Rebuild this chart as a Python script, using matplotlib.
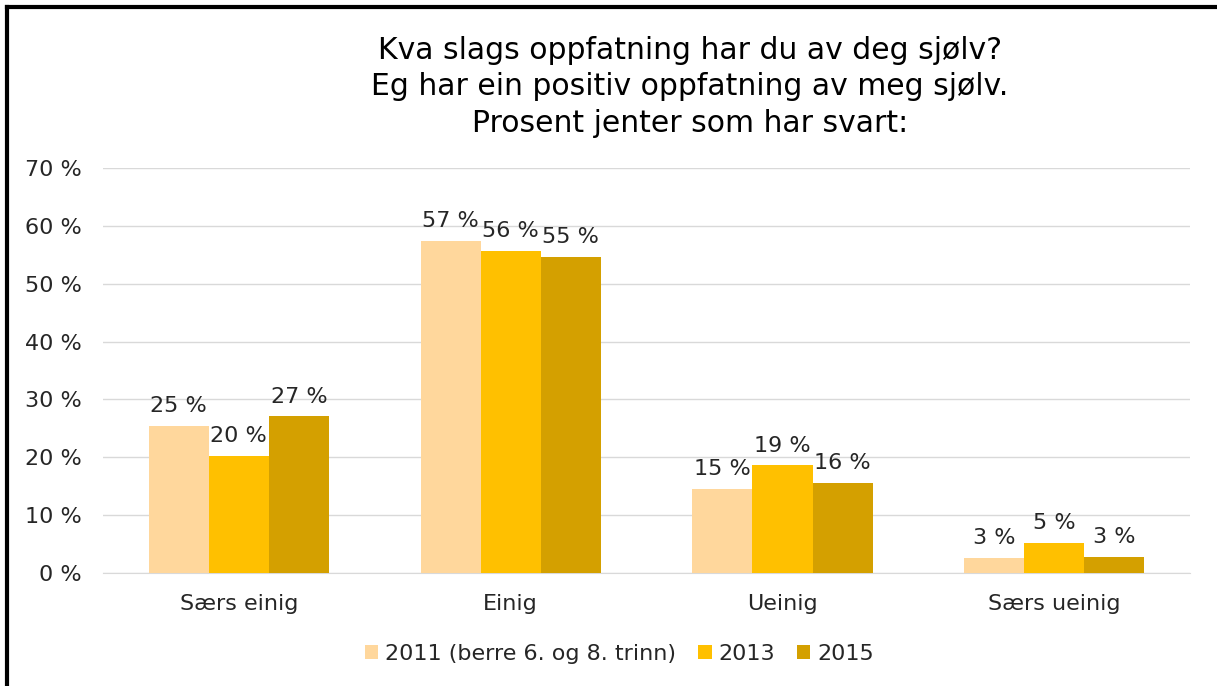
import matplotlib
matplotlib.use('Agg')
import matplotlib.pyplot as plt
import numpy as np
from matplotlib.lines import Line2D

categories = ['Særs einig', 'Einig', 'Ueinig', 'Særs ueinig']
series = ['2011 (berre 6. og 8. trinn)', '2013', '2015']
v2011 = [25.4, 57.4, 14.6, 2.6]
v2013 = [20.2, 55.7, 18.6, 5.2]
v2015 = [27.1, 54.6, 15.6, 2.8]
colors = ['#FFD79C', '#FFC000', '#D4A000']

plt.rcParams['font.family'] = ['DejaVu Sans']

fig = plt.figure(figsize=(12.17, 6.86), dpi=100)
ax = fig.add_axes([0.0846, 0.1647, 0.8934, 0.5903])

x = np.arange(len(categories))
w = 0.221
for i, (vals, name, c) in enumerate(zip([v2011, v2013, v2015], series, colors)):
    pos = x + (i - 1) * w
    bars = ax.bar(pos, vals, width=w, color=c, label=name, zorder=3)
    for b, v in zip(bars, vals):
        ax.annotate(f'{round(v):.0f} %', (b.get_x() + b.get_width() / 2, v),
                    xytext=(0, 7), textcoords='offset points',
                    ha='center', va='bottom', fontsize=16, color='#262626', zorder=4)

ax.set_xlim(-0.5, 3.5)
ax.set_ylim(0, 70)
ax.set_yticks(range(0, 71, 10))
ax.set_yticklabels([f'{t} %' for t in range(0, 71, 10)])
ax.set_xticks(x)
ax.set_xticklabels(categories)
ax.tick_params(axis='y', length=0, pad=15, labelsize=16, labelcolor='#262626')
ax.tick_params(axis='x', length=0, pad=15, labelsize=16, labelcolor='#262626')
ax.grid(axis='y', color='#D9D9D9', linewidth=1, zorder=0)
for s in ['top', 'right', 'left']:
    ax.spines[s].set_visible(False)
ax.spines['bottom'].set_color('#D9D9D9')

fig.text(0.567, 0.948, 'Kva slags oppfatning har du av deg sjølv?\n'
         'Eg har ein positiv oppfatning av meg sjølv.\n'
         'Prosent jenter som har svart:',
         ha='center', va='top', fontsize=21.5, color='#000000', linespacing=1.33)

ax.legend(loc='upper center', bbox_to_anchor=(0.475, -0.125), ncol=3, frameon=False,
          fontsize=16, handlelength=0.6, handleheight=0.6, handletextpad=0.3,
          columnspacing=1.0, labelcolor='#262626')

fig.add_artist(Line2D([7 / 1217, 7 / 1217], [0, 1 - 7 / 686], color='black', linewidth=3))
fig.add_artist(Line2D([7 / 1217, 1], [1 - 7 / 686, 1 - 7 / 686], color='black', linewidth=3))

fig.savefig('out.png', dpi=100)
